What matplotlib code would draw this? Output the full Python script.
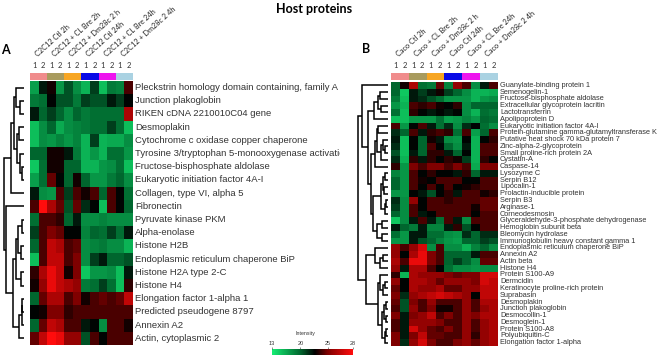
import numpy as np
import matplotlib
matplotlib.use("Agg")
import matplotlib.pyplot as plt
from matplotlib.colors import LinearSegmentedColormap, ListedColormap, FuncNorm
from matplotlib.transforms import blended_transform_factory

# ------------------------------------------------------------------
# Data (intensity values, rows top to bottom)
# ------------------------------------------------------------------
groups_a = ["C2C12 Ctl 2h", "C2C12 + CL Bre 2h", "C2C12 + Dm28c 2 h",
            "C2C12 Ctl 24h", "C2C12 + CL Bre 24h", "C2C12 + Dm28c 2 4h"]
groups_b = ["Caco Ctl 2h", "Caco + CL Bre 2h", "Caco + Dm28c 2 h",
            "Caco Ctl 24h", "Caco + CL Bre 24h", "Caco + Dm28c 2 4h"]
replicates = ["1", "2"]
group_colors = ["#f08c8c", "#a89b5e", "#f7a623", "#0a0ae6", "#ee14ee", "#aad2e2"]

proteins_a = [
    "Pleckstrin homology domain containing, family A",
    "Junction plakoglobin",
    "RIKEN cDNA 2210010C04 gene",
    "Desmoplakin",
    "Cytochrome c oxidase copper chaperone",
    "Tyrosine 3/tryptophan 5-monooxygenase activation protein",
    "Fructose-bisphosphate aldolase",
    "Eukaryotic initiation factor 4A-I",
    "Collagen, type VI, alpha 5",
    "Fibronectin",
    "Pyruvate kinase PKM",
    "Alpha-enolase",
    "Histone H2B",
    "Endoplasmic reticulum chaperone BiP",
    "Histone H2A type 2-C",
    "Histone H4",
    "Elongation factor 1-alpha 1",
    "Predicted pseudogene 8797",
    "Annexin A2",
    "Actin, cytoplasmic 2",
]

values_a = [
    [17, 22, 23, 17.5, 20.5, 18, 16, 21, 15.5, 19, 18.5, 24],
    [19, 19.5, 22.5, 20.5, 20.5, 19, 21, 20.5, 20.5, 22, 21, 22.5],
    [22, 20, 21, 20, 18, 20, 19, 19.5, 19.5, 19.5, 19.5, 26],
    [15.5, 18, 20, 16.5, 18, 18.5, 19, 19.5, 19.5, 21, 19.5, 15.5],
    [15.5, 18, 17.5, 18.5, 17.5, 18.5, 16, 21, 16, 16.5, 16.5, 18],
    [20, 20, 23, 23, 22, 19, 16, 17.5, 16, 19.5, 19.5, 17.5],
    [15, 19.5, 23, 23, 20, 20, 16, 16, 17.5, 18, 19.5, 15.5],
    [17, 19.5, 24.5, 22.5, 20, 23, 20, 17.5, 17.5, 19, 20, 18],
    [22, 18, 17.5, 24, 21, 24, 23, 24, 20, 24, 22.5, 19.5],
    [24, 28, 26, 24.5, 20.5, 24.5, 21.5, 22.5, 15.5, 24, 22.5, 20],
    [19.5, 24, 24, 23.5, 20, 22, 18, 18, 18.5, 18, 18, 18],
    [21, 24, 25, 24.5, 22.5, 22.5, 18.5, 20, 19.5, 21, 19.5, 22],
    [20, 24, 26.5, 26, 24, 24.5, 18, 18.5, 19, 18, 18, 16],
    [15.5, 24, 26.5, 26.5, 24, 25, 18, 21, 22, 20, 20, 20.5],
    [23.5, 26, 27.5, 26.5, 23, 25, 15, 17.5, 17.5, 18, 15.5, 22],
    [23, 25.5, 27.5, 26.5, 26, 25.5, 19, 19.5, 21, 19.5, 15.5, 23.5],
    [20, 24.5, 26, 26, 24, 25, 23, 24, 24.5, 24, 24.5, 26.5],
    [22.5, 23, 25, 25, 23.5, 24, 24, 24, 24, 24, 24, 24],
    [20, 24.5, 26.5, 26, 24, 24, 22, 22.5, 18, 24, 24, 23],
    [24.5, 26.5, 28, 27.5, 25.5, 25.5, 20.5, 24, 22.5, 24, 24, 24],
]

proteins_b = [
    "Guanylate-binding protein 1", "Semenogelin-1", "Fructose-bisphosphate aldolase",
    "Extracellular glycoprotein lacritin", "Lactotransferrin", "Apolipoprotein D",
    "Eukaryotic initiation factor 4A-I", "Protein-glutamine gamma-glutamyltransferase K",
    "Putative heat shock 70 kDa protein 7", "Zinc-alpha-2-glycoprotein",
    "Small proline-rich protein 2A", "Cystatin-A", "Caspase-14", "Lysozyme C",
    "Serpin B12", "Lipocalin-1", "Prolactin-inducible protein", "Serpin B3",
    "Arginase-1", "Corneodesmosin", "Glyceraldehyde-3-phosphate dehydrogenase",
    "Hemoglobin subunit beta", "Bleomycin hydrolase",
    "Immunoglobulin heavy constant gamma 1", "Endoplasmic reticulum chaperone BiP",
    "Annexin A2", "Actin beta", "Histone H4", "Protein S100-A9", "Dermcidin",
    "Keratinocyte proline-rich protein", "Suprabasin", "Desmoplakin",
    "Junction plakoglobin", "Desmocollin-1", "Desmoglein-1", "Protein S100-A8",
    "Polyubiquitin-C", "Elongation factor 1-alpha",
]

values_b = [
    [20, 23, 26, 19.5, 19, 24.5, 18.5, 25.5, 24, 18, 22, 24],
    [20, 15, 22, 21, 22, 23, 21, 20, 18, 16, 16, 16.5],
    [19, 15.5, 22, 21.5, 20.5, 19.5, 17.5, 17.5, 17.5, 16, 17.5, 18],
    [17.5, 16, 24, 23.5, 24, 23, 22.5, 23.5, 18, 20, 20, 20],
    [19.5, 15.5, 23.5, 22.5, 22, 22.5, 22, 22.5, 18, 16, 19.5, 19],
    [15.5, 15.5, 17.5, 17.5, 17.5, 19.5, 17, 17.5, 18.5, 17.5, 20, 19.5],
    [24, 17.5, 22.5, 24, 22, 19.5, 21.5, 18, 21.5, 22.5, 19.5, 18],
    [21.5, 20, 24, 22, 23.5, 24, 23.5, 19.5, 24, 17, 20, 24],
    [22, 15.5, 22.5, 20, 23, 22, 18, 17.5, 22.5, 16, 22.5, 23.5],
    [21.5, 15.5, 22.5, 20, 24, 22.5, 20, 18, 22, 16, 24, 24],
    [20.5, 15.5, 22, 20, 23.5, 23.5, 22, 20, 22.5, 16, 24, 24],
    [21.5, 16, 23.5, 22, 23.5, 22.5, 23.5, 23, 21, 16, 23.5, 22.5],
    [23.5, 17.5, 25, 24, 25, 25, 24, 25, 24, 16.5, 25, 25],
    [18.5, 17.5, 24, 22.5, 23.5, 22.5, 22.5, 22, 23.5, 20, 22, 22],
    [20, 17.5, 24, 23, 22.5, 24, 24, 24, 22.5, 22.5, 24, 24],
    [20, 17.5, 24, 22.5, 24, 22.5, 24, 22.5, 23, 23.5, 24, 24],
    [17.5, 17.5, 22.5, 22, 20.5, 22.5, 23.5, 22, 24, 24, 23, 23.5],
    [21.5, 18, 25.5, 22.5, 24, 24, 23.5, 24, 24, 24, 24.5, 24.5],
    [21, 18, 24, 22.5, 24, 24, 24, 24, 24, 23, 24.5, 24.5],
    [20, 18, 24, 22, 22.5, 24, 24, 24, 24, 22.5, 24, 24],
    [15, 18, 22, 24, 22, 19.5, 24, 22, 18, 24, 24, 24],
    [22, 20, 19, 22, 18.5, 18.5, 22, 23.5, 20.5, 22.5, 24, 24],
    [19.5, 17.5, 22, 22, 19.5, 19.5, 18, 17.5, 21.5, 20, 21.5, 21.5],
    [17.5, 17.5, 22, 20.5, 20, 18.5, 17.5, 17, 20, 20, 21, 20.5],
    [25.5, 24, 25.5, 27, 18, 24, 18, 18, 16, 18.5, 20, 18],
    [25.5, 22.5, 26, 27.5, 25, 24, 20, 20, 20, 22, 24, 24],
    [26, 24, 27.5, 27.5, 25, 24, 20, 21, 20, 18, 24.5, 24.5],
    [25.5, 22, 26, 26, 24, 22.5, 19.5, 18, 18, 17.5, 18, 18],
    [23.5, 16, 26, 25.5, 25.5, 25.5, 25, 24.5, 25, 25, 27, 27],
    [25.5, 22.5, 26, 26, 25.5, 24.5, 25.5, 25.5, 25.5, 25, 27, 26.5],
    [24.5, 22.5, 26, 25.5, 25.5, 26, 24.5, 24.5, 25.5, 25.5, 26.5, 26.5],
    [25, 21.5, 25.5, 26, 26.5, 27, 26.5, 26, 25.5, 22.5, 26.5, 26.5],
    [24.5, 20.5, 25, 24, 25.5, 24, 24, 24, 25.5, 24, 26, 26],
    [24, 20.5, 25.5, 24, 25, 23, 23, 24, 25.5, 24, 25.5, 26],
    [25, 22, 25, 25.5, 26.5, 24, 25, 24, 25.5, 25, 26, 26],
    [24, 22, 25.5, 25.5, 25.5, 25, 24, 24, 25.5, 24, 25.5, 26],
    [24, 22, 27, 25.5, 24.5, 24, 25, 24, 25.5, 24, 25.5, 26],
    [25, 22, 25, 26.5, 24.5, 24.5, 24, 24, 25.5, 23.5, 25.5, 26],
    [25, 21.5, 25.5, 27, 25, 24, 24, 25, 25.5, 24.5, 25.5, 26],
]

# dendrogram merges: (child a, child b, height); clusters numbered after leaves
merges_a = [
    (1, 2, 4), (0, 20, 8), (3, 4, 5), (6, 7, 2), (5, 23, 3.5), (22, 24, 6.5),
    (21, 25, 10), (8, 26, 13), (10, 11, 1.5), (12, 13, 3), (28, 29, 5.7),
    (14, 15, 3), (30, 31, 8), (16, 17, 1.5), (33, 18, 2), (34, 19, 4.5),
    (32, 35, 11), (9, 36, 18), (27, 37, 20),
]
merges_b = [
    (1, 2, 8), (3, 4, 7), (39, 40, 10), (41, 5, 14), (6, 7, 10), (9, 10, 3),
    (8, 44, 5), (45, 11, 7), (43, 46, 11), (47, 12, 13), (13, 14, 3),
    (15, 16, 4), (49, 50, 5), (17, 18, 2), (52, 19, 3), (51, 53, 7),
    (20, 21, 6), (22, 23, 6), (55, 56, 11), (54, 57, 15), (48, 58, 17),
    (42, 59, 20), (0, 60, 26), (25, 26, 5), (62, 27, 8), (24, 63, 13),
    (29, 30, 3), (65, 31, 5), (28, 66, 8), (32, 33, 2), (34, 35, 2),
    (68, 69, 4), (36, 37, 2), (71, 38, 3), (70, 72, 6), (67, 73, 10),
    (64, 74, 22), (61, 75, 30),
]

cbar_ticks = [13, 20, 25, 28]
cbar_pos = [0.0, 0.35, 0.69, 1.0]

# ------------------------------------------------------------------
# Style
# ------------------------------------------------------------------
W, H = 669, 357
plt.rcParams.update({"font.family": "Liberation Sans", "figure.facecolor": "white"})

cmap = LinearSegmentedColormap.from_list("gbr", [
    (0.0, (0.08, 0.93, 0.45)),
    (0.35, (0.0, 0.40, 0.18)),
    (0.53, (0.0, 0.0, 0.0)),
    (0.69, (0.50, 0.0, 0.0)),
    (1.0, (1.0, 0.05, 0.05)),
])
norm = FuncNorm((lambda v: np.interp(v, cbar_ticks, cbar_pos),
                 lambda p: np.interp(p, cbar_pos, cbar_ticks)), vmin=13, vmax=28)


def box(x0, y0, x1, y1):
    return [x0 / W, 1 - y1 / H, (x1 - x0) / W, (y1 - y0) / H]


def draw_dendro(ax, merges, n, lw):
    pos = {i: (i, 0.0) for i in range(n)}
    for k, (a, b, h) in enumerate(merges):
        ya, ha = pos[a]
        yb, hb = pos[b]
        ax.plot([ha, h, h, hb], [ya, ya, yb, yb], color="black", lw=lw,
                solid_capstyle="butt", solid_joinstyle="miter")
        pos[n + k] = ((ya + yb) / 2, h)


def panel(fig, x0, x1, y0, y1, values, names, groups, merges, dendro_x0, leaf_x,
          label_x1, label_size, group_label_y):
    data = np.array(values)
    n = data.shape[0]
    ncol = data.shape[1]

    ax = fig.add_axes(box(x0, y0, x1, y1))
    ax.imshow(data, cmap=cmap, norm=norm, aspect="auto", interpolation="nearest")
    ax.set_axis_off()

    # group colour strip
    strip = fig.add_axes(box(x0, 73, x1, 80))
    col_group = np.repeat(np.arange(len(groups)), len(replicates))[None, :]
    strip.imshow(col_group, cmap=ListedColormap(group_colors), aspect="auto",
                 interpolation="nearest", vmin=-0.5, vmax=len(groups) - 0.5)
    strip.set_axis_off()

    tr = blended_transform_factory(strip.transData, fig.transFigure)
    for j in range(ncol):
        strip.text(j, 1 - 66 / H, replicates[j % 2], transform=tr, ha="center",
                   va="center", fontsize=5.5, color="#333333", family="Lato")
    for g, name in enumerate(groups):
        strip.text(2 * g + 0.5, 1 - group_label_y / H, name, transform=tr,
                   rotation=42, rotation_mode="anchor", ha="left", va="bottom",
                   fontsize=5.3, color="#222222", family="Lato")

    # dendrogram
    dax = fig.add_axes(box(dendro_x0, y0, x0, y1))
    draw_dendro(dax, merges, n, 1.1)
    dax.set_xlim(leaf_x - dendro_x0, leaf_x - x0)
    dax.set_ylim(n - 0.5, -0.5)
    dax.set_axis_off()

    # row labels (clipped at the panel edge)
    lax = fig.add_axes(box(x1, y0, label_x1, y1))
    lax.set_xlim(0, 1)
    lax.set_ylim(n - 0.5, -0.5)
    lax.set_axis_off()
    for i, name in enumerate(names):
        lax.text(0.012, i, name, ha="left", va="center", fontsize=label_size,
                 color="#333333", clip_on=True)


fig = plt.figure(figsize=(W / 100, H / 100), dpi=100)

fig.text(314 / W, 1 - 9 / H, "Host proteins", ha="center", va="center",
         fontsize=9, fontweight="bold", family="Lato")
fig.text(5 / W, 1 - 50 / H, "A", ha="center", va="center", fontsize=9,
         fontweight="bold", family="Lato")
fig.text(366 / W, 1 - 49 / H, "B", ha="center", va="center", fontsize=9,
         fontweight="bold", family="Lato")

panel(fig, 30, 133, 81, 345, values_a, proteins_a, groups_a, merges_a,
      0, 23.5, 340, 6.8, 58)
panel(fig, 391, 498, 82, 346, values_b, proteins_b, groups_b, merges_b,
      355, 388, 669, 5.3, 58)

# colour key
cax = fig.add_axes(box(272, 349, 353, 355))
sm = plt.cm.ScalarMappable(norm=norm, cmap=cmap)
cb = fig.colorbar(sm, cax=cax, orientation="horizontal", ticks=cbar_ticks)
cb.outline.set_visible(False)
cax.xaxis.set_ticks_position("top")
cax.tick_params(axis="x", labelsize=4, length=1.5, width=0.4, pad=1, colors="#333333")
cax.set_xticklabels([str(t) for t in cbar_ticks])
fig.text(305 / W, 1 - 334 / H, "Intensity", ha="center", va="center",
         fontsize=3.8, color="#333333")

fig.savefig("out.png", dpi=100)
